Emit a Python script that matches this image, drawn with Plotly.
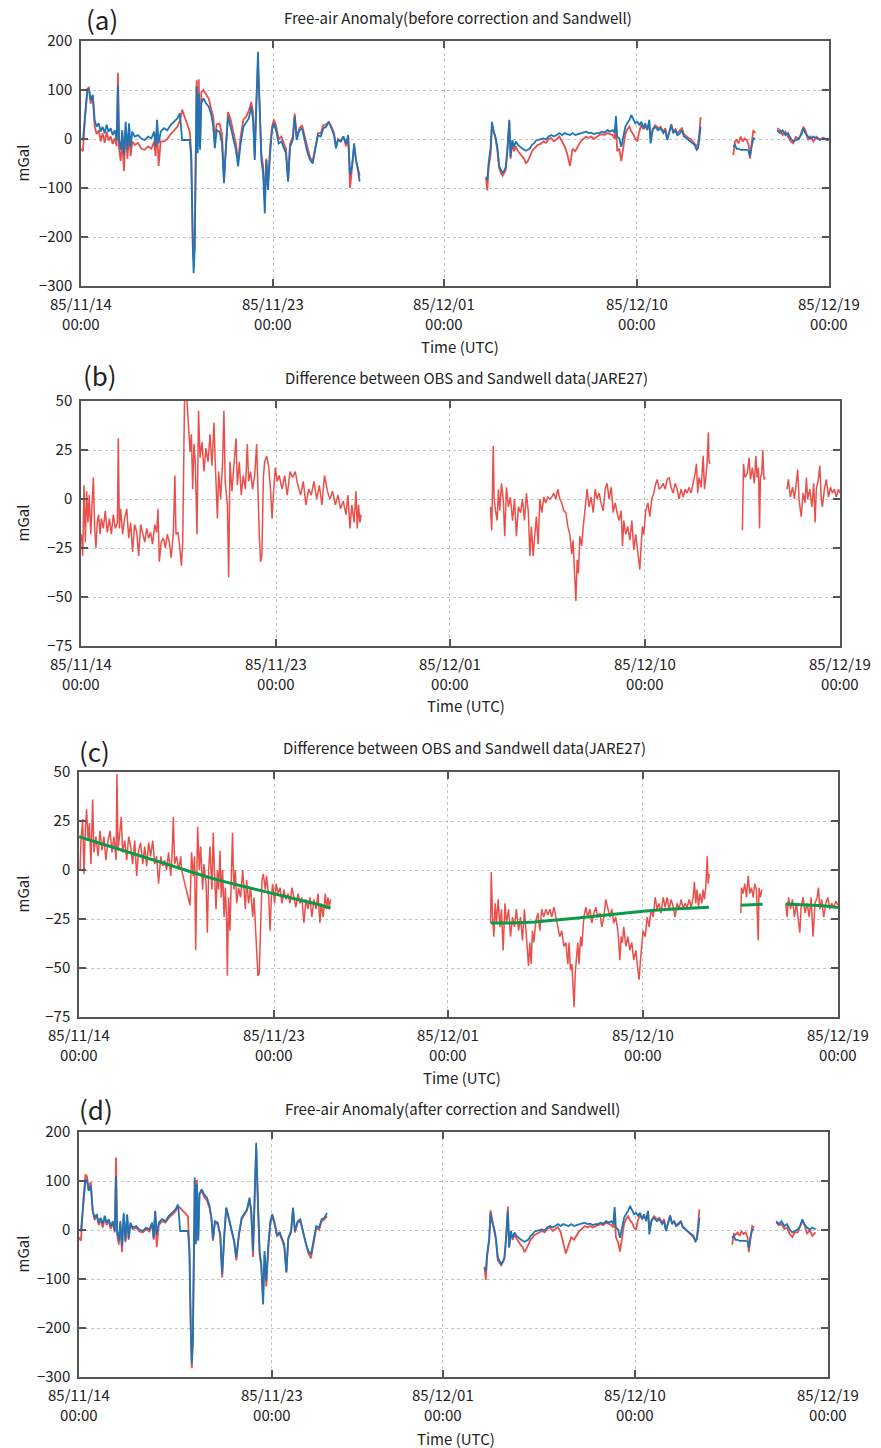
import pandas as pd
import plotly.graph_objects as go

BASE = pd.Timestamp("1985-11-14 00:00")

# ---------------- Sandwell (blue) : day offsets from 85/11/14 00:00 ----------------
sw_t1 = [0.00,0.09,0.20,0.30,0.37,0.45,0.55,0.64,0.73,0.83,
         0.92,1.01,1.11,1.20,1.29,1.39,1.48,1.58,1.67,1.73,
         1.78,1.86,1.93,2.01,2.09,2.17,2.25,2.32,2.40,2.51,
         2.67,2.82,2.98,3.14,3.29,3.42,3.49,3.56,3.63,3.73,
         3.88,4.04,4.20,4.35,4.51,4.63,4.73,5.09,5.16,5.23,
         5.27,5.32,5.37,5.41,5.46,5.51,5.57,5.63,5.73,5.85,
         5.98,6.10,6.19,6.26,6.35,6.48,6.60,6.69,6.79,6.88,
         7.00,7.13,7.25,7.35,7.47,7.60,7.72,7.85,7.97,8.05,
         8.13,8.19,8.28,8.36,8.44,8.52,8.60,8.67,8.75,8.85,
         8.94,9.03,9.14,9.25,9.38,9.50,9.59,9.69,9.78,9.91,
         10.00,10.09,10.22,10.34,10.47,10.59,10.72,10.84,10.97,11.09,
         11.22,11.34,11.47,11.59,11.72,11.84,11.93,12.03,12.15,12.28,
         12.40,12.50,12.59,12.68,12.78,12.87,12.96,13.04]
sw_v1 = [1,-2,52,100,103,80,90,39,25,32,
         15,25,12,29,15,22,8,18,-2,110,
         -2,-22,18,-33,35,-22,32,-16,15,5,
         8,1,-2,5,1,15,-16,39,-9,15,
         22,18,29,35,42,52,-2,-2,-43,-220,
         -274,-226,-43,107,-29,93,-22,73,83,73,
         66,49,25,-19,18,15,-9,-90,-9,46,
         25,1,-22,-56,-9,25,32,42,66,39,
         -43,59,178,59,-43,-70,-152,-43,-104,-29,
         18,32,15,-9,-5,-19,-29,-87,-16,-2,
         46,-2,18,22,-2,-26,-43,-50,-19,8,
         5,22,25,35,22,8,-19,-2,-5,5,
         -9,8,-73,-56,-9,-43,-63,-87]
sw_t2 = [18.95,19.01,19.07,19.17,19.23,19.29,19.39,19.48,19.57,19.65,
         19.73,19.82,19.88,19.96,20.04,20.10,20.18,20.26,20.35,20.45,
         20.54,20.63,20.73,20.82,20.91,21.01,21.10,21.19,21.29,21.38,
         21.51,21.63,21.76,21.88,22.01,22.13,22.26,22.38,22.51,22.63,
         22.75,22.88,23.00,23.13,23.25,23.38,23.50,23.63,23.75,23.88,
         24.00,24.13,24.25,24.38,24.50,24.63,24.75,24.88,24.97,25.03,
         25.09,25.19,25.28,25.38,25.47,25.56,25.66,25.75,25.84,25.94,
         26.03,26.12,26.22,26.31,26.40,26.50,26.59,26.65,26.75,26.87,
         27.00,27.12,27.25,27.34,27.43,27.53,27.62,27.71,27.81,27.90,
         28.03,28.12,28.21,28.34,28.43,28.53,28.62,28.71,28.81,28.87,
         28.93,28.99]
sw_v2 = [-77,-84,-50,-16,35,18,5,-16,-56,-63,
         -70,-63,-56,-16,39,-36,-2,-16,-5,-12,
         -16,-19,-22,-24,-22,-19,-12,-9,-3,-2,
         -1,1,-1,5,8,5,8,12,8,12,
         10,8,12,8,10,12,13,15,12,13,
         10,12,12,15,13,18,15,18,12,47,
         5,1,-16,5,25,32,39,49,39,32,
         35,29,35,22,32,18,39,-9,18,25,
         18,22,12,18,-2,12,29,12,18,8,
         12,18,5,1,-2,-5,-9,-12,-22,-19,
         -2,25]
sw_t3 = [30.52,30.60,30.68,30.77,30.87,30.96,31.05,31.15,31.24,31.30,31.38,31.46,31.55]
sw_v3 = [-16,-12,-20,-20,-22,-22,-22,-22,-24,-36,-15,1,1]
sw_t4 = [32.58,32.71,32.83,32.96,33.08,33.21,33.33,33.45,33.58,33.70,
         33.80,33.89,34.02,34.14,34.27,34.42,34.58,34.73,34.89,35.00]
sw_v4 = [18,12,18,8,12,1,-5,-2,1,8,22,12,5,1,5,1,-1,1,-1,-2]

# ---------------- OBS before correction (red, panel a) ----------------
obs_a_v1 = [-20,-25,50,103,105,72,88,25,10,18,
            -5,12,-8,15,-3,5,-10,2,-15,135,
            -20,-45,0,-65,20,-40,15,-35,-5,-12,
            -8,-20,-22,-15,-20,-5,-35,25,-55,-5,
            -5,0,10,18,25,38,60,15,-30,-200,
            -245,-210,-30,120,-15,122,-10,95,100,90,
            82,60,45,0,30,32,10,-85,5,55,
            40,15,-10,-45,5,40,45,58,75,55,
            -35,65,150,70,-30,-55,-120,-40,-85,-15,
            25,40,25,0,5,-10,-20,-85,-10,5,
            52,5,22,28,5,-20,-38,-45,-12,12,
            12,28,30,35,25,12,-15,0,-5,5,
            -15,5,-100,-65,-15,-45,-60,-75]
obs_a_v2 = [-80,-105,-60,-30,30,20,2,-22,-60,-70,
            -75,-68,-62,-20,35,-40,-8,-25,-15,-25,
            -30,-35,-40,-50,-45,-35,-25,-20,-15,-12,
            -10,-5,-8,0,2,-5,0,5,-5,-15,
            -30,-55,-20,-25,-15,-5,0,5,2,5,
            0,5,8,10,8,12,10,8,0,30,
            -25,-20,-45,-20,10,20,25,15,10,0,
            -5,15,30,20,25,20,35,0,20,28,
            22,25,15,22,0,15,30,15,20,12,
            18,22,10,5,2,0,-5,-10,-15,-10,
            10,45]
obs_a_v3 = [-33,-5,-2,-9,5,-5,1,-2,-12,-40,-9,18,12]
obs_a_v4 = [22,18,8,15,5,-5,-9,5,-2,12,25,18,-2,5,-5,5,-2,3,-2,-1]

# ---------------- OBS after correction (red, panel d) ----------------
obs_d_v1 = [-15,-22,60,112,110,85,98,40,20,30,
            10,22,5,25,10,18,2,15,-5,148,
            -8,-30,12,-45,30,-25,28,-20,10,2,
            5,-3,-5,2,-3,12,-20,38,-35,10,
            18,15,25,32,38,48,45,28,-40,-215,
            -282,-225,-40,100,-25,102,-20,75,80,68,
            60,45,22,-22,15,12,-12,-97,-12,45,
            22,-2,-25,-62,-12,22,30,40,62,35,
            -55,55,165,55,-50,-75,-145,-50,-115,-35,
            12,28,12,-12,-8,-22,-35,-85,-18,-5,
            42,-5,15,18,-5,-30,-48,-58,-22,5,
            0,18,22,28]
obs_d_v2 = [-75,-102,-55,-20,40,25,5,-20,-62,-68,
            -72,-65,-58,-15,48,-35,-5,-20,-10,-18,
            -25,-30,-35,-45,-38,-28,-20,-15,-10,-8,
            -5,-2,-5,2,5,-2,2,6,-5,-25,
            -48,-30,-15,-20,-12,-2,2,8,5,8,
            5,8,10,12,10,15,12,10,5,35,
            -15,-25,-44,-15,12,22,28,20,15,5,
            0,20,32,22,28,22,38,2,20,28,
            22,25,15,22,0,15,30,15,18,10,
            15,18,8,2,0,-5,-10,-15,-25,-15,
            10,42]
obs_d_v3 = [-30,-8,-10,-5,-12,-3,-8,-5,-15,-45,-15,8,5]
obs_d_v4 = [15,10,12,2,5,-8,-14,-5,-5,8,18,12,-8,0,-12,-5]

# ---------------- Difference OBS - Sandwell (panel b) ----------------
diff_t1 = [0.02,0.08,0.14,0.20,0.26,0.32,0.38,0.45,0.51,0.57,
           0.63,0.69,0.75,0.81,0.88,0.94,1.03,1.12,1.21,1.31,
           1.40,1.49,1.58,1.68,1.72,1.77,1.83,1.92,2.01,2.11,
           2.20,2.29,2.38,2.47,2.57,2.66,2.75,2.84,2.94,3.03,
           3.12,3.21,3.30,3.40,3.49,3.55,3.61,3.70,3.80,3.89,
           3.98,4.07,4.16,4.26,4.33,4.38,4.47,4.56,4.63,4.69,
           4.78,4.87,5.03,5.09,5.15,5.21,5.27,5.35,5.39,5.42,
           5.49,5.58,5.67,5.76,5.86,5.95,6.04,6.13,6.19,6.29,
           6.35,6.44,6.53,6.59,6.65,6.75,6.81,6.87,6.96,7.05,
           7.15,7.21,7.30,7.39,7.48,7.58,7.67,7.73,7.82,7.91,
           8.01,8.10,8.16,8.22,8.28,8.34,8.41,8.47,8.56,8.65,
           8.74,8.81,8.87,8.96,9.05,9.14,9.27,9.39,9.51,9.64,
           9.76,9.88,10.00,10.13,10.25,10.37,10.50,10.62,10.74,10.87,
           10.99,11.11,11.23,11.36,11.48,11.60,11.73,11.85,11.97,12.09,
           12.22,12.31,12.40,12.49,12.59,12.68,12.74,12.80,12.86,12.92]
diff_v1 = [-18,-29,7,-22,4,-12,2,-18,-3,11,
           -15,-25,-12,-8,-18,-10,-15,-6,-17,-10,
           -18,-8,-15,-12,31,-15,-5,-18,-10,-5,
           -20,-12,-27,-13,-17,-29,-13,-18,-22,-15,
           -20,-17,-23,-13,-17,-5,-32,-22,-20,-25,
           -18,-22,-30,-17,12,-18,-17,-25,-34,-22,
           56,53,24,33,5,28,19,-18,26,45,
           21,29,14,26,19,33,17,39,19,-10,
           14,0,19,45,9,-3,-40,19,4,16,
           31,7,19,2,12,5,28,9,14,5,
           12,28,2,-18,-32,-29,11,19,22,17,
           5,-10,2,16,9,12,5,12,2,14,
           11,14,7,2,9,-3,5,2,9,0,
           7,-3,12,4,0,4,-3,2,-5,-1,
           -8,2,-15,-3,-12,4,-15,-3,-12,-8]
diff_t2 = [18.88,18.94,19.01,19.05,19.13,19.19,19.25,19.31,19.39,19.47,
           19.54,19.62,19.71,19.80,19.90,19.99,20.08,20.17,20.27,20.36,
           20.45,20.54,20.63,20.70,20.77,20.85,20.93,21.00,21.08,21.16,
           21.25,21.34,21.43,21.53,21.62,21.71,21.80,21.89,21.99,22.08,
           22.17,22.26,22.36,22.45,22.54,22.63,22.69,22.76,22.82,22.88,
           22.94,23.00,23.09,23.16,23.25,23.34,23.43,23.52,23.62,23.71,
           23.80,23.89,23.98,24.08,24.17,24.26,24.35,24.45,24.54,24.63,
           24.72,24.81,24.91,24.97,25.03,25.12,25.21,25.31,25.40,25.49,
           25.58,25.68,25.77,25.83,25.89,25.95,26.04,26.14,26.23,26.32,
           26.41,26.51,26.57,26.66,26.75,26.84,26.94,27.03,27.12,27.21,
           27.30,27.40,27.49,27.58,27.67,27.77,27.86,27.95,28.04,28.13,
           28.23,28.32,28.38,28.44,28.50,28.60,28.69,28.75,28.81,28.87,
           28.93,28.96,29.00]
diff_v2 = [-4,-16,27,0,-7,-11,5,-6,8,0,
           -19,6,-4,1,-11,0,-19,-4,-7,0,
           -11,3,-7,-29,-14,-29,-18,-9,-23,0,
           -7,1,-2,1,0,1,3,0,5,0,
           -2,-6,-7,-14,-18,-28,-21,-41,-52,-31,
           -38,-19,-24,-14,-6,5,-4,1,-7,5,
           0,3,-2,-6,5,8,0,6,-7,-2,
           -7,-11,-6,-24,-11,-18,-14,-21,-11,-26,
           -18,-29,-36,-24,-14,-18,-6,-2,-9,0,
           3,8,10,5,6,8,5,10,11,6,
           3,8,5,0,5,1,5,3,6,3,
           8,13,18,3,11,6,22,5,11,18,
           34,20,18]
diff_t3 = [30.50,30.55,30.62,30.72,30.81,30.87,30.96,31.05,31.12,31.18,31.24,31.29,31.33,31.39,31.44,31.49,31.55]
diff_v3 = [-16,18,11,13,21,10,16,8,22,11,16,-15,11,13,25,10,11]
diff_t4 = [32.56,32.62,32.71,32.81,32.90,32.99,33.05,33.11,33.21,33.30,
           33.39,33.45,33.51,33.61,33.70,33.79,33.85,33.91,34.00,34.07,
           34.13,34.19,34.28,34.37,34.47,34.56,34.65,34.74,34.83,34.93,34.99]
diff_v4 = [5,10,1,6,0,8,15,0,-9,3,-2,11,0,5,-4,8,-12,5,10,17,1,-4,5,10,1,6,3,5,1,5,3]

# ---------------- Difference after time fix (panel c) ----------------
corr_t1 = [0.05,0.09,0.17,0.23,0.29,0.35,0.42,0.48,0.55,0.63,
           0.69,0.78,0.88,0.97,1.06,1.15,1.24,1.34,1.43,1.52,
           1.61,1.71,1.75,1.80,1.89,1.95,2.01,2.11,2.20,2.29,
           2.38,2.47,2.57,2.66,2.75,2.84,2.94,3.03,3.12,3.21,
           3.30,3.40,3.49,3.58,3.67,3.77,3.86,3.95,4.04,4.13,
           4.23,4.29,4.35,4.41,4.50,4.60,4.69,4.73,5.12,5.19,
           5.27,5.33,5.38,5.42,5.47,5.55,5.61,5.70,5.76,5.86,
           5.92,5.98,6.04,6.13,6.19,6.25,6.32,6.38,6.44,6.50,
           6.56,6.62,6.69,6.75,6.81,6.84,6.90,6.96,7.02,7.08,
           7.14,7.21,7.27,7.36,7.45,7.55,7.61,7.67,7.73,7.82,
           7.91,8.01,8.07,8.13,8.19,8.25,8.31,8.38,8.44,8.50,
           8.59,8.65,8.75,8.81,8.87,8.93,9.02,9.09,9.18,9.27,
           9.36,9.45,9.54,9.64,9.73,9.82,9.91,10.00,10.10,10.19,
           10.28,10.37,10.47,10.56,10.65,10.74,10.83,10.93,11.02,11.11,
           11.17,11.26,11.36,11.42,11.48,11.54,11.60]
corr_v1 = [0,15,26,-2,20,31,15,24,3,36,
           9,17,7,20,10,17,5,15,20,9,
           17,5,49,10,20,27,9,15,5,17,
           12,3,15,-3,10,14,3,12,2,14,
           7,15,3,7,-7,7,2,5,0,9,
           -3,7,27,3,7,0,7,0,-18,9,
           -3,7,-41,0,22,0,12,-10,3,-7,
           -32,0,12,-10,19,-2,-20,0,-10,10,
           -14,0,-24,-9,-27,-54,-14,-31,-7,19,
           -10,0,-17,-9,-14,0,-10,-20,-5,-17,
           -9,-24,-14,-29,-44,-54,-53,-24,-5,-2,
           -10,-3,-14,-31,-14,-7,-17,-7,-12,-9,
           -17,-10,-15,-12,-17,-9,-14,-19,-12,-17,
           -14,-27,-15,-20,-14,-24,-15,-20,-12,-27,
           -17,-24,-12,-20,-14,-19,-15]
corr_t2 = [18.98,19.01,19.07,19.13,19.19,19.25,19.33,19.41,19.48,19.56,
           19.64,19.71,19.81,19.90,19.99,20.08,20.17,20.27,20.36,20.45,
           20.54,20.64,20.73,20.79,20.85,20.91,20.97,21.07,21.16,21.25,
           21.34,21.43,21.53,21.62,21.71,21.80,21.90,21.99,22.08,22.17,
           22.26,22.36,22.45,22.54,22.60,22.66,22.73,22.79,22.83,22.88,
           22.94,23.00,23.06,23.13,23.19,23.28,23.37,23.46,23.56,23.65,
           23.74,23.83,23.92,24.02,24.11,24.20,24.29,24.39,24.48,24.57,
           24.66,24.75,24.85,24.94,25.00,25.06,25.12,25.22,25.31,25.40,
           25.49,25.58,25.68,25.77,25.83,25.89,25.95,26.01,26.11,26.20,
           26.29,26.38,26.48,26.57,26.66,26.75,26.84,26.94,27.03,27.12,
           27.21,27.31,27.40,27.49,27.58,27.67,27.77,27.86,27.95,28.04,
           28.14,28.23,28.32,28.38,28.44,28.50,28.57,28.63,28.72,28.78,
           28.84,28.90,28.97,29.01,29.06]
corr_v2 = [-27,-1,-24,-34,-17,-27,-15,-29,-20,-41,
           -17,-27,-20,-34,-24,-29,-20,-31,-24,-36,
           -20,-34,-49,-37,-48,-31,-37,-26,-22,-31,
           -20,-24,-20,-23,-20,-24,-19,-24,-29,-34,
           -31,-39,-37,-48,-37,-51,-48,-63,-70,-53,
           -44,-37,-48,-34,-39,-24,-19,-24,-20,-27,
           -22,-19,-24,-22,-29,-24,-15,-19,-24,-20,
           -27,-24,-31,-46,-34,-37,-29,-39,-34,-41,
           -37,-46,-41,-51,-56,-46,-37,-31,-34,-24,
           -29,-20,-24,-14,-20,-17,-22,-14,-19,-14,
           -20,-15,-19,-24,-17,-20,-15,-20,-17,-19,
           -15,-19,-14,-6,-17,-10,-19,-12,-17,-10,
           -15,-9,7,-7,-2]
corr_t3 = [30.52,30.55,30.62,30.70,30.78,30.86,30.93,31.01,31.09,31.16,31.24,31.32,31.36,31.42,31.49]
corr_v3 = [-22,-9,-12,-7,-14,-3,-12,-9,-14,-7,-10,-36,-9,-14,-10]
corr_t4 = [32.59,32.65,32.72,32.81,32.90,32.99,33.08,33.18,33.24,33.30,
           33.39,33.48,33.58,33.67,33.76,33.85,33.94,34.04,34.10,34.16,
           34.25,34.34,34.44,34.53,34.62,34.71,34.80,34.90,34.99]
corr_v4 = [-17,-24,-14,-20,-15,-24,-17,-27,-32,-19,
           -14,-22,-17,-24,-14,-34,-17,-14,-9,-20,
           -15,-24,-17,-14,-20,-17,-19,-16,-18]

# ---------------- fitted drift curves (green, panel c) ----------------
fit_t1 = [0.0,1.0,2.0,3.0,4.0,5.0,6.0,7.0,8.0,9.0,10.0,11.0,11.6]
fit_v1 = [17,13.5,10,6.3,2.8,-0.6,-3.8,-6.8,-9.5,-12,-14.8,-17.5,-19.5]
fit_t2 = [18.98,20.0,21.0,22.0,23.0,24.0,25.0,26.0,27.0,28.0,29.05]
fit_v2 = [-27,-27,-26.5,-25.6,-24.5,-23.3,-22.1,-21,-20.1,-19.4,-19]
fit_t3 = [30.52,31.52]
fit_v3 = [-18,-17.5]
fit_t4 = [32.59,33.5,34.3,35.0]
fit_v4 = [-17.3,-17.7,-18.3,-19.2]

# ---------------- axis / text ----------------
tick_dates = ["1985-11-14", "1985-11-23", "1985-12-01", "1985-12-10", "1985-12-19"]
tick_text = ["85/11/14<br>00:00", "85/11/23<br>00:00", "85/12/01<br>00:00",
             "85/12/10<br>00:00", "85/12/19<br>00:00"]
titles = ["Free-air Anomaly(before correction and Sandwell)",
          "Difference between OBS and Sandwell data(JARE27)",
          "Difference between OBS and Sandwell data(JARE27)",
          "Free-air Anomaly(after correction and Sandwell)"]
letters = ["(a)", "(b)", "(c)", "(d)"]

RED = "#e9504b"
BLUE = "#1f74b6"
GREEN = "#0a9a48"
FONT = "Noto Sans CJK JP"
W, H = 881, 1448


def to_time(days):
    return [BASE + pd.Timedelta(days=d) for d in days]


def join(segs):
    xs, ys = [], []
    for t, v in segs:
        if xs:
            xs.append(None)
            ys.append(None)
        xs += to_time(t)
        ys += list(v)
    return xs, ys


fig = go.Figure()


def add(segs, color, width, idx):
    x, y = join(segs)
    ax = "" if idx == 1 else str(idx)
    fig.add_trace(go.Scatter(x=x, y=y, mode="lines", line=dict(color=color, width=width),
                             xaxis="x" + ax, yaxis="y" + ax, showlegend=False,
                             connectgaps=False))


# panel a
add([(sw_t1, obs_a_v1), (sw_t2, obs_a_v2), (sw_t3, obs_a_v3), (sw_t4, obs_a_v4)], RED, 1.8, 1)
add([(sw_t1, sw_v1), (sw_t2, sw_v2), (sw_t3, sw_v3), (sw_t4, sw_v4)], BLUE, 1.8, 1)
# panel b
add([(diff_t1, diff_v1), (diff_t2, diff_v2), (diff_t3, diff_v3), (diff_t4, diff_v4)], RED, 1.5, 2)
# panel c
add([(corr_t1, corr_v1), (corr_t2, corr_v2), (corr_t3, corr_v3), (corr_t4, corr_v4)], RED, 1.5, 3)
add([(fit_t1, fit_v1), (fit_t2, fit_v2), (fit_t3, fit_v3), (fit_t4, fit_v4)], GREEN, 3, 3)
# panel d
n1, n4 = len(obs_d_v1), len(obs_d_v4)
add([(sw_t1[:n1], obs_d_v1), (sw_t2, obs_d_v2), (sw_t3, obs_d_v3), (sw_t4[:n4], obs_d_v4)], RED, 1.8, 4)
add([(sw_t1[:n1], sw_v1[:n1]), (sw_t2, sw_v2), (sw_t3, sw_v3), (sw_t4[:n4], sw_v4[:n4])], BLUE, 1.8, 4)

# panel boxes in pixels: (left, right, top, bottom)
boxes = [(81, 829, 41, 286), (81, 840, 401, 646), (79, 838, 772, 1017), (79, 828, 1132, 1377)]
yranges = [[-300, 200], [-75, 50], [-75, 50], [-300, 200]]
ydticks = [100, 25, 25, 100]
letter_pos = [(102, 19), (100, 375), (94, 750), (96, 1108)]
title_pos = [(458, 17), (466, 377), (464, 748), (452, 1108)]
time_pos = [(460, 346), (466, 706), (462, 1077), (456, 1438)]

layout = dict(width=W, height=H, margin=dict(l=0, r=0, t=0, b=0, pad=0, autoexpand=False),
              paper_bgcolor="white", plot_bgcolor="white",
              font=dict(family=FONT, size=15, color="#222"))
annotations = []
for i, (l, r, t, b) in enumerate(boxes):
    ax = "" if i == 0 else str(i + 1)
    layout["xaxis" + ax] = dict(
        domain=[l / W, r / W], anchor="y" + ax, type="date", automargin=False,
        range=["1985-11-14", "1985-12-19"],
        tickvals=tick_dates, showticklabels=False,
        showgrid=True, gridcolor="#c4c4c4", griddash="dot", gridwidth=1,
        showline=True, linecolor="#555", linewidth=1.5, mirror="ticks",
        ticks="inside", ticklen=7, tickcolor="#555", tickwidth=1.5, zeroline=False)
    layout["yaxis" + ax] = dict(
        domain=[1 - b / H, 1 - t / H], anchor="x" + ax, automargin=False,
        range=yranges[i], dtick=ydticks[i], tick0=0,
        showgrid=True, gridcolor="#c4c4c4", griddash="dot", gridwidth=1,
        showline=True, linecolor="#555", linewidth=1.5, mirror="ticks",
        ticks="inside", ticklen=7, tickcolor="#555", tickwidth=1.5,
        tickfont=dict(size=15, family=FONT, color="#222"), zeroline=False,
        ticklabelstandoff=4)
    # two-line date tick labels under each x tick
    for d, s in zip(tick_dates, tick_text):
        annotations.append(dict(text=s, x=d, xref="x" + ax, y=1 - (b + 6) / H, yref="paper",
                                showarrow=False, xanchor="center", yanchor="top",
                                borderpad=0,
                                font=dict(size=15, family=FONT, color="#222")))
    lx, ly = letter_pos[i]
    annotations.append(dict(text=letters[i], x=lx / W, y=1 - ly / H, xref="paper", yref="paper",
                            showarrow=False, xanchor="center", yanchor="middle",
                            font=dict(size=26, family=FONT, color="#222")))
    tx, ty = title_pos[i]
    annotations.append(dict(text=titles[i], x=tx / W, y=1 - ty / H, xref="paper", yref="paper",
                            showarrow=False, xanchor="center", yanchor="middle",
                            font=dict(size=15, family=FONT, color="#222")))
    mx, my = time_pos[i]
    annotations.append(dict(text="Time (UTC)", x=mx / W, y=1 - my / H, xref="paper", yref="paper",
                            showarrow=False, xanchor="center", yanchor="middle",
                            font=dict(size=15, family=FONT, color="#222")))
    annotations.append(dict(text="mGal", x=22 / W, y=1 - ((t + b) / 2) / H, xref="paper",
                            yref="paper", showarrow=False, textangle=-90,
                            xanchor="center", yanchor="middle",
                            font=dict(size=15, family=FONT, color="#222")))
layout["annotations"] = annotations
fig.update_layout(**layout)

fig.write_html("out.html", config={"displayModeBar": False},
               post_script="document.body.style.margin='0';")
